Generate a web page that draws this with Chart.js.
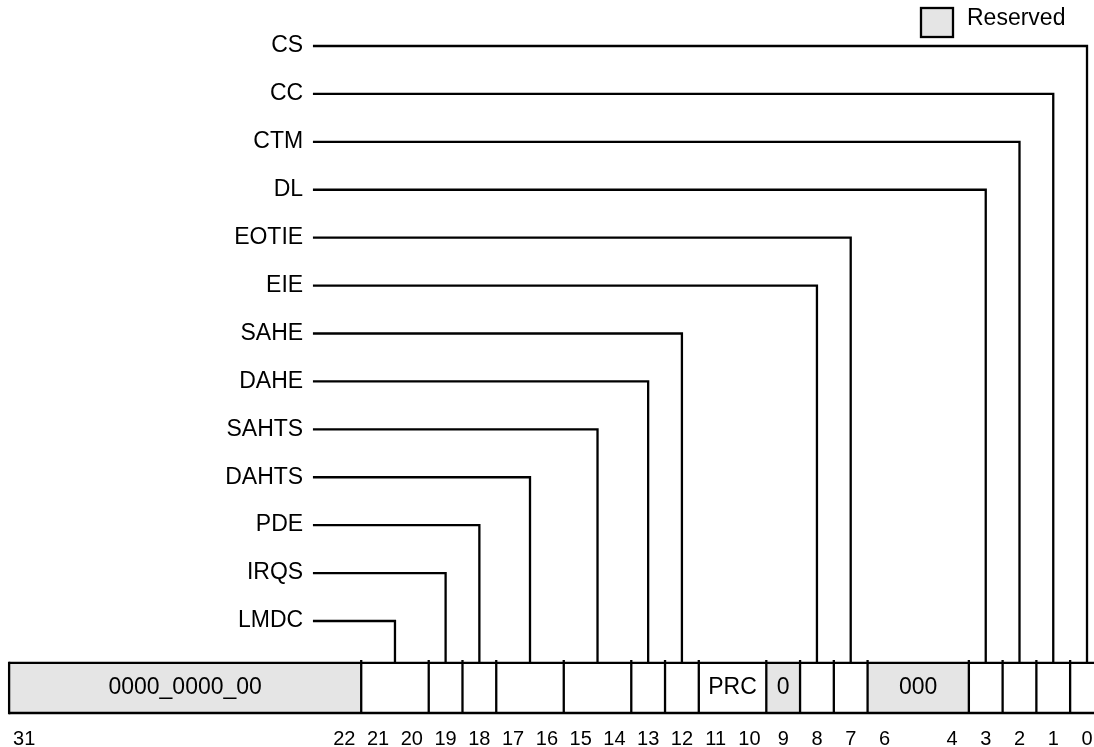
<!DOCTYPE html>
<html>
<head>
<meta charset="utf-8">
<script src="https://cdn.jsdelivr.net/npm/chart.js@4.4.1/dist/chart.umd.min.js"></script>
<style>
  html, body { margin: 0; padding: 0; background: #fff; }
  #wrap { width: 1094px; height: 747px; }
</style>
</head>
<body>
<div id="wrap"><canvas id="reg" width="1094" height="747"></canvas></div>
<script>
// register fields, msb first
const fieldHi   = [31, 21, 19, 18, 17, 15, 13, 12, 11, 9, 8, 7, 6, 3, 2, 1, 0];
const fieldLo   = [22, 20, 19, 18, 16, 14, 13, 12, 10, 9, 8, 7, 4, 3, 2, 1, 0];
const fieldText = ['0000_0000_00', '', '', '', '', '', '', '', 'PRC', '0', '', '', '000', '', '', '', ''];
const fieldReserved = [true, false, false, false, false, false, false, false, false, true, false, false, true, false, false, false, false];

// named bits, top row first
const signalNames = ['CS', 'CC', 'CTM', 'DL', 'EOTIE', 'EIE', 'SAHE', 'DAHE', 'SAHTS', 'DAHTS', 'PDE', 'IRQS', 'LMDC'];
const signalHi = [0, 1, 2, 3, 7, 8, 12, 13, 15, 17, 18, 19, 21];
const signalLo = [0, 1, 2, 3, 7, 8, 12, 13, 14, 16, 18, 19, 20];

// bit numbers printed under the register
const bitLabels = [31, 22, 21, 20, 19, 18, 17, 16, 15, 14, 13, 12, 11, 10, 9, 8, 7, 6, 4, 3, 2, 1, 0];

// layout, in scale units (x = bit number, y = label row)
const REG_LEFT = 31.93;
const REG_RIGHT = -0.8;
const BAR_TOP = 12.876;
const BAR_BOTTOM = 13.92;
const BIT_ROW = 14.48;
const LABEL_X = 23.22;
const LEAD_X = 22.93;

const INK = '#000';
const GREY = '#e5e5e5';
const FONT = '"Liberation Sans", Arial, Helvetica, sans-serif';

function seg(points, extra) {
  return Object.assign({
    data: points,
    borderColor: INK,
    borderWidth: 2.3,
    pointRadius: 0,
    tension: 0,
    fill: false,
    order: 1
  }, extra || {});
}

function leftEdge(i) {
  return i === 0 ? REG_LEFT : fieldHi[i] + 0.5;
}

const datasets = [];

// grey reserved fields
fieldHi.forEach((hi, i) => {
  if (!fieldReserved[i]) return;
  datasets.push(seg(
    [{ x: leftEdge(i), y: BAR_BOTTOM }, { x: fieldLo[i] - 0.5, y: BAR_BOTTOM }],
    { borderWidth: 0, fill: { value: BAR_TOP }, backgroundColor: GREY, order: 2 }
  ));
});

// register outline
datasets.push(seg([{ x: REG_LEFT, y: BAR_TOP }, { x: REG_RIGHT, y: BAR_TOP }]));
datasets.push(seg([{ x: REG_LEFT, y: BAR_BOTTOM }, { x: REG_RIGHT, y: BAR_BOTTOM }]));
datasets.push(seg([{ x: REG_LEFT, y: BAR_TOP }, { x: REG_LEFT, y: BAR_BOTTOM }], { borderCapStyle: 'square' }));

// field dividers, with a little notch above the bar
for (let i = 1; i < fieldHi.length; i++) {
  datasets.push(seg([{ x: leftEdge(i), y: BAR_TOP - 0.06 }, { x: leftEdge(i), y: BAR_BOTTOM }]));
}

// leader lines from each name down to its field
signalNames.forEach((name, row) => {
  const xc = (signalHi[row] + signalLo[row]) / 2;
  datasets.push(seg([
    { x: LEAD_X, y: row },
    { x: xc, y: row },
    { x: xc, y: BAR_TOP }
  ]));
});

const textPlugin = {
  id: 'registerText',
  afterDatasetsDraw(chart) {
    const { ctx, chartArea, scales: { x, y } } = chart;
    ctx.save();
    ctx.fillStyle = INK;
    ctx.textBaseline = 'middle';

    ctx.font = '23px ' + FONT;
    ctx.textAlign = 'right';
    signalNames.forEach((name, row) => {
      ctx.fillText(name, x.getPixelForValue(LABEL_X), y.getPixelForValue(row));
    });

    ctx.textAlign = 'center';
    const midY = y.getPixelForValue((BAR_TOP + BAR_BOTTOM) / 2);
    fieldText.forEach((t, i) => {
      if (!t) return;
      const cx = (x.getPixelForValue(leftEdge(i)) + x.getPixelForValue(fieldLo[i] - 0.5)) / 2;
      ctx.fillText(t, cx, midY);
    });

    ctx.font = '20px ' + FONT;
    const bitY = y.getPixelForValue(BIT_ROW);
    bitLabels.forEach(b => {
      if (b === 31) {
        ctx.textAlign = 'left';
        ctx.fillText(String(b), x.getPixelForValue(REG_LEFT) + 4, bitY);
      } else {
        ctx.textAlign = 'center';
        ctx.fillText(String(b), x.getPixelForValue(b), bitY);
      }
    });

    // legend
    const bx = chartArea.right - 173, by = chartArea.top + 8;
    ctx.fillStyle = GREY;
    ctx.fillRect(bx, by, 32, 29);
    ctx.strokeStyle = INK;
    ctx.lineWidth = 2.3;
    ctx.strokeRect(bx, by, 32, 29);
    ctx.fillStyle = INK;
    ctx.font = '23px ' + FONT;
    ctx.textAlign = 'left';
    ctx.fillText('Reserved', chartArea.right - 127, chartArea.top + 19);
    ctx.restore();
  }
};

new Chart(document.getElementById('reg'), {
  type: 'line',
  data: { datasets: datasets },
  options: {
    responsive: false,
    animation: false,
    events: [],
    layout: { padding: 0 },
    plugins: { legend: { display: false }, tooltip: { enabled: false } },
    scales: {
      x: { type: 'linear', reverse: true, min: -0.207, max: 32.2, display: false },
      y: { type: 'linear', reverse: true, min: -0.96, max: 14.63, display: false }
    }
  },
  plugins: [textPlugin]
});
</script>
</body>
</html>
